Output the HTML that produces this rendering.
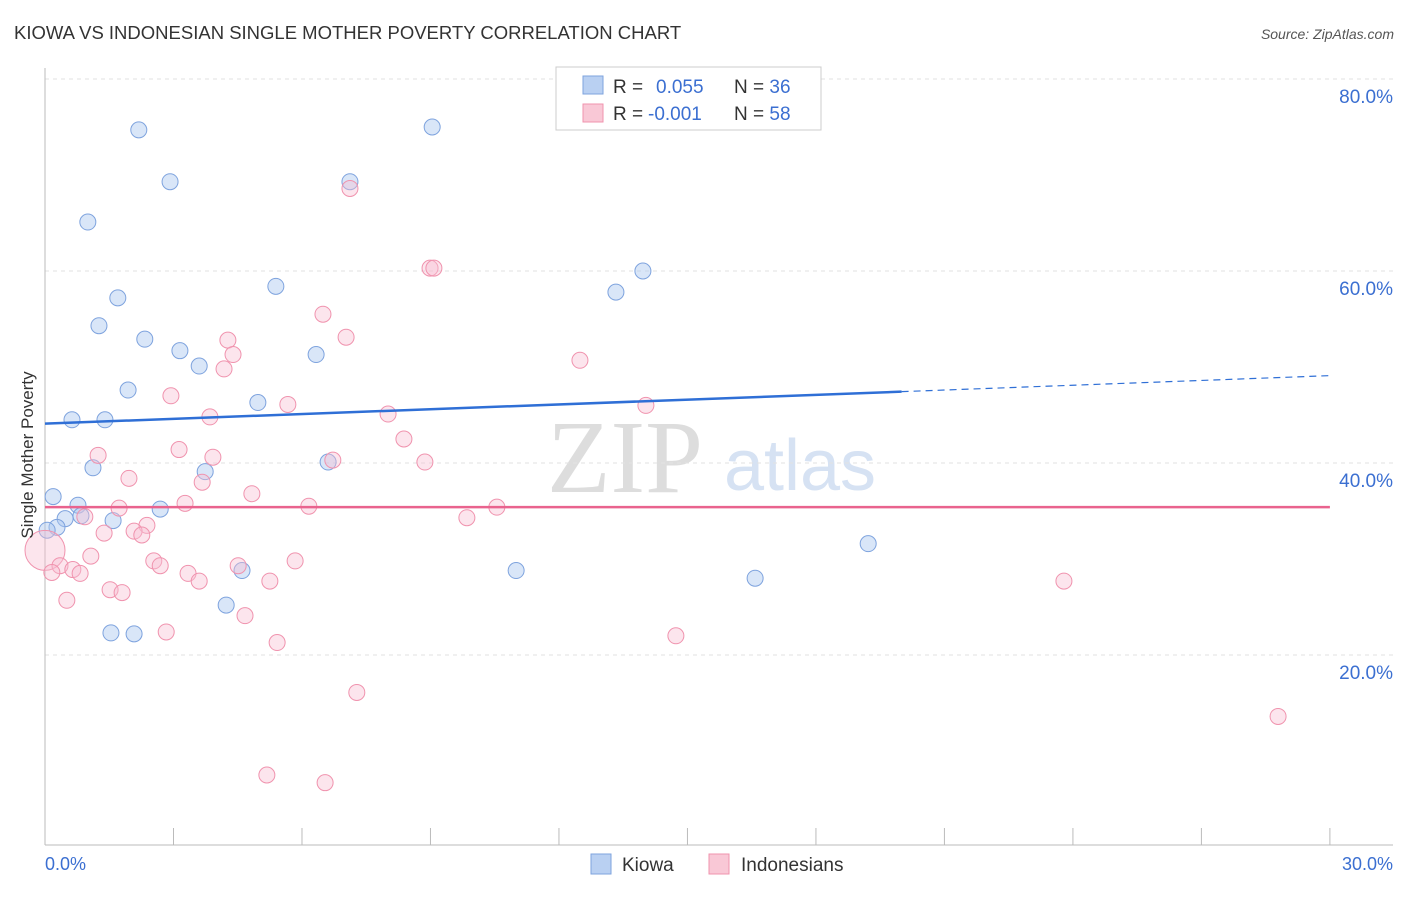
<!DOCTYPE html>
<html><head><meta charset="utf-8"><style>
body{margin:0;background:#fff;font-family:"Liberation Sans",sans-serif}
</style></head><body>
<svg id="c" width="1406" height="892" xmlns="http://www.w3.org/2000/svg">
<text x="14" y="39" font-size="18.5" fill="#333">KIOWA VS INDONESIAN SINGLE MOTHER POVERTY CORRELATION CHART</text>
<text x="1394" y="39" font-size="14" fill="#555" font-style="italic" text-anchor="end">Source: ZipAtlas.com</text>
<text x="625" y="492" font-size="104" fill="#ddd" font-family="Liberation Serif,serif" text-anchor="middle">ZIP</text>
<text x="800" y="490" font-size="72" fill="#d6e2f3" text-anchor="middle">atlas</text>
<g id="grid"></g><g id="axes"></g><g id="pts"></g><g id="trend"></g>
<text x="33" y="455" font-size="17" fill="#333" transform="rotate(-90 33 455)" text-anchor="middle">Single Mother Poverty</text>
<text x="45" y="870" font-size="18" fill="#3b6fd1">0.0%</text>
<text x="1393" y="870" font-size="18" fill="#3b6fd1" text-anchor="end">30.0%</text>
<g>
<rect x="556" y="67" width="265" height="63" fill="#fff" stroke="#ccc"/>
<rect x="583" y="76" width="20" height="18" fill="#b9d0f2" stroke="#7ea3de"/>
<rect x="583" y="104" width="20" height="18" fill="#f9c8d6" stroke="#f093ae"/>
<text x="613" y="93" font-size="19" fill="#333">R = <tspan fill="#3b6fd1" x="656">0.055</tspan><tspan x="734" fill="#333">N = </tspan><tspan fill="#3b6fd1">36</tspan></text>
<text x="613" y="120" font-size="19" fill="#333">R = <tspan fill="#3b6fd1" x="648">-0.001</tspan><tspan x="734" fill="#333">N = </tspan><tspan fill="#3b6fd1">58</tspan></text>
</g>
<g><rect x="591" y="854" width="20" height="20" fill="#b9d0f2" stroke="#7ea3de"/><text x="622" y="871" font-size="19" fill="#333">Kiowa</text></g>
<g><rect x="709" y="854" width="20" height="20" fill="#f9c8d6" stroke="#f093ae"/><text x="741" y="871" font-size="19" fill="#333">Indonesians</text></g>
</svg>
<script>
const yTicks=[20,40,60,80];
const yTickLabels=["20.0%","40.0%","60.0%","80.0%"];
const xTicks=[0,3,6,9,12,15,18,21,24,27,30];
const kiowaX=[2.19,9.04,2.92,7.12,1.00,5.39,13.96,13.33,1.70,1.26,2.33,3.15,6.33,3.60,1.94,4.97,0.63,1.40,1.12,3.74,6.61,0.19,0.77,2.69,0.84,0.47,1.59,0.28,0.05,19.22,11.00,4.60,16.58,4.23,1.54,2.08];
const kiowaY=[74.7,75.0,69.3,69.3,65.1,58.4,60.0,57.8,57.2,54.3,52.9,51.7,51.3,50.1,47.6,46.3,44.5,44.5,39.5,39.1,40.1,36.5,35.6,35.2,34.5,34.2,34.0,33.3,33.0,31.6,28.8,28.8,28.0,25.2,22.3,22.2];
const indoX=[7.12,8.99,9.08,6.49,7.03,4.27,4.39,12.49,4.18,2.94,5.67,3.85,8.01,8.38,3.13,1.24,3.92,6.72,8.87,1.96,3.67,4.83,3.27,6.16,10.55,1.73,9.85,0.93,2.38,1.38,2.08,2.26,0,1.07,2.54,5.84,4.51,2.69,0.35,0.16,0.65,0.82,3.34,3.60,5.25,23.79,1.52,1.80,0.51,4.67,2.83,14.73,5.42,7.28,28.79,5.18,6.54,14.03];
const indoY=[68.6,60.3,60.3,55.5,53.1,52.8,51.3,50.7,49.8,47.0,46.1,44.8,45.1,42.5,41.4,40.8,40.6,40.3,40.1,38.4,38.0,36.8,35.8,35.5,35.4,35.3,34.3,34.4,33.5,32.7,32.9,32.5,30.9,30.3,29.8,29.8,29.3,29.3,29.3,28.6,28.9,28.5,28.5,27.7,27.7,27.7,26.8,26.5,25.7,24.1,22.4,22.0,21.3,16.1,13.6,7.5,6.7,46.0];
const kiowaTrend=[44.1,49.1];
const indoTrend=[35.4,35.4];
const xs=v=>45+v*42.83, ys=v=>847-v*9.6;
const NS="http://www.w3.org/2000/svg";
function mk(p,t,a){const e=document.createElementNS(NS,t);for(const k in a)e.setAttribute(k,a[k]);p.appendChild(e);return e;}
const g=document.getElementById('grid'),ax=document.getElementById('axes'),pts=document.getElementById('pts'),tr=document.getElementById('trend');
yTicks.forEach((t,i)=>{
 const l=mk(g,'line',{x1:45,x2:1393,y1:ys(t),y2:ys(t),stroke:'#e2e2e2','stroke-dasharray':'4,4'});
 
 
 const tx=mk(g,'text',{x:1393,y:ys(t)+24,'font-size':19,fill:'#3b6fd1','text-anchor':'end'});tx.textContent=yTickLabels[i];
 
 
});
const ya=mk(ax,'line',{x1:45,x2:45,y1:68,y2:845,stroke:'#bbb'});


const xa=mk(ax,'line',{x1:45,x2:1393,y1:845,y2:845,stroke:'#bbb'});


xTicks.forEach(t=>{const l=mk(ax,'line',{x1:xs(t),x2:xs(t),y1:828,y2:845,stroke:'#bbb'});
 
 });
kiowaX.forEach((v,i)=>{const c=mk(pts,'circle',{cx:xs(v),cy:ys(kiowaY[i]),r:8,fill:'rgba(170,200,240,0.45)',stroke:'#7ea3de','stroke-width':1});
 
 });
indoX.forEach((v,i)=>{const c=mk(pts,'circle',{cx:xs(v),cy:ys(indoY[i]),r:(v===0?20:8),fill:'rgba(248,190,210,0.4)',stroke:'#f093ae','stroke-width':1});
 
 });
const kAt=x=>kiowaTrend[0]+(kiowaTrend[1]-kiowaTrend[0])*x/30;
const k1=mk(tr,'line',{x1:xs(0),y1:ys(kAt(0)),x2:xs(20),y2:ys(kAt(20)),stroke:'#2f6fd6','stroke-width':2.5});


const k2=mk(tr,'line',{x1:xs(20),y1:ys(kAt(20)),x2:xs(30),y2:ys(kAt(30)),stroke:'#2f6fd6','stroke-width':1.2,'stroke-dasharray':'7,5'});


const p1=mk(tr,'line',{x1:xs(0),y1:ys(indoTrend[0]),x2:xs(30),y2:ys(indoTrend[1]),stroke:'#e9638e','stroke-width':2.5});


</script>
</body></html>
